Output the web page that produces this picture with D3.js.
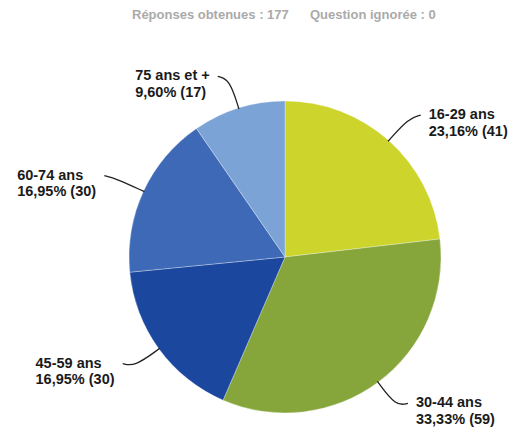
<!DOCTYPE html>
<html>
<head>
<meta charset="utf-8">
<script src="https://cdn.jsdelivr.net/npm/d3@7"></script>
<style>
  body { margin: 0; background: #fff; }
  svg { display: block; font-family: "Liberation Sans", Arial, sans-serif; }
</style>
</head>
<body>
<div id="chart"></div>
<script>
// data
const categories = ["16-29 ans", "30-44 ans", "45-59 ans", "60-74 ans", "75 ans et +"];
const counts = [41, 59, 30, 30, 17];
const percents = ["23,16%", "33,33%", "16,95%", "16,95%", "9,60%"];
const colors = ["#cdd52c", "#86a63c", "#1b479f", "#3d69b6", "#7ca3d6"];
const totalAnswered = 177;
const skipped = 0;

var width = 510, height = 436;
var cx = 285, cy = 257, radius = 156;

const svg = d3.select("#chart").append("svg")
  .attr("width", width)
  .attr("height", height);

// header
svg.append("text")
  .attr("x", 132).attr("y", 19)
  .attr("fill", "#aaa").attr("font-size", "13px").attr("font-weight", "bold")
  .text("Réponses obtenues : " + totalAnswered);
svg.append("text")
  .attr("x", 310).attr("y", 19)
  .attr("fill", "#aaa").attr("font-size", "13px").attr("font-weight", "bold")
  .text("Question ignorée : " + skipped);

const data = categories.map((c, i) => ({ cat: c, n: counts[i], pct: percents[i], color: colors[i] }));

const pie = d3.pie().sort(null).value(d => d.n);
const arcs = pie(data);

const arc = d3.arc().innerRadius(0).outerRadius(radius);

const g = svg.append("g").attr("transform", `translate(${cx},${cy})`);

g.selectAll("path.slice")
  .data(arcs)
  .enter().append("path")
  .attr("class", "slice")
  .attr("d", arc)
  .attr("fill", d => d.data.color)
  .attr("stroke", "#fff")
  .attr("stroke-opacity", 0.5)
  .attr("stroke-width", 0.6);

// leader lines + labels
const pt = (a, r) => [r * Math.sin(a), -r * Math.cos(a)];
const line = d3.line().curve(d3.curveBasis);

arcs.forEach(function(d) {
  var mid = (d.startAngle + d.endAngle) / 2;
  var side = Math.sin(mid) >= 0 ? 1 : -1;
  var p0 = pt(mid, radius - 1);
  var p1 = pt(mid, 186);
  var p2 = [p1[0] + side * 12, p1[1] - 3];

  g.append("path")
    .attr("d", line([p0, p1, p2]))
    .attr("fill", "none")
    .attr("stroke", "#222")
    .attr("stroke-width", 1.3);

  var t = g.append("text")
    .attr("font-size", "14.5px")
    .attr("font-weight", "bold")
    .attr("fill", "#1a1a1a");
  t.append("tspan").attr("x", 0).attr("dy", 0).text(d.data.cat);
  t.append("tspan").attr("x", 0).attr("dy", 16.5).text(d.data.pct + " (" + d.data.n + ")");

  var w = t.node().getBBox().width;
  var tx = side > 0 ? p2[0] + 8 : p2[0] - 8 - w;
  t.attr("transform", `translate(${tx},${p2[1] + 4})`);
});
</script>
</body>
</html>
